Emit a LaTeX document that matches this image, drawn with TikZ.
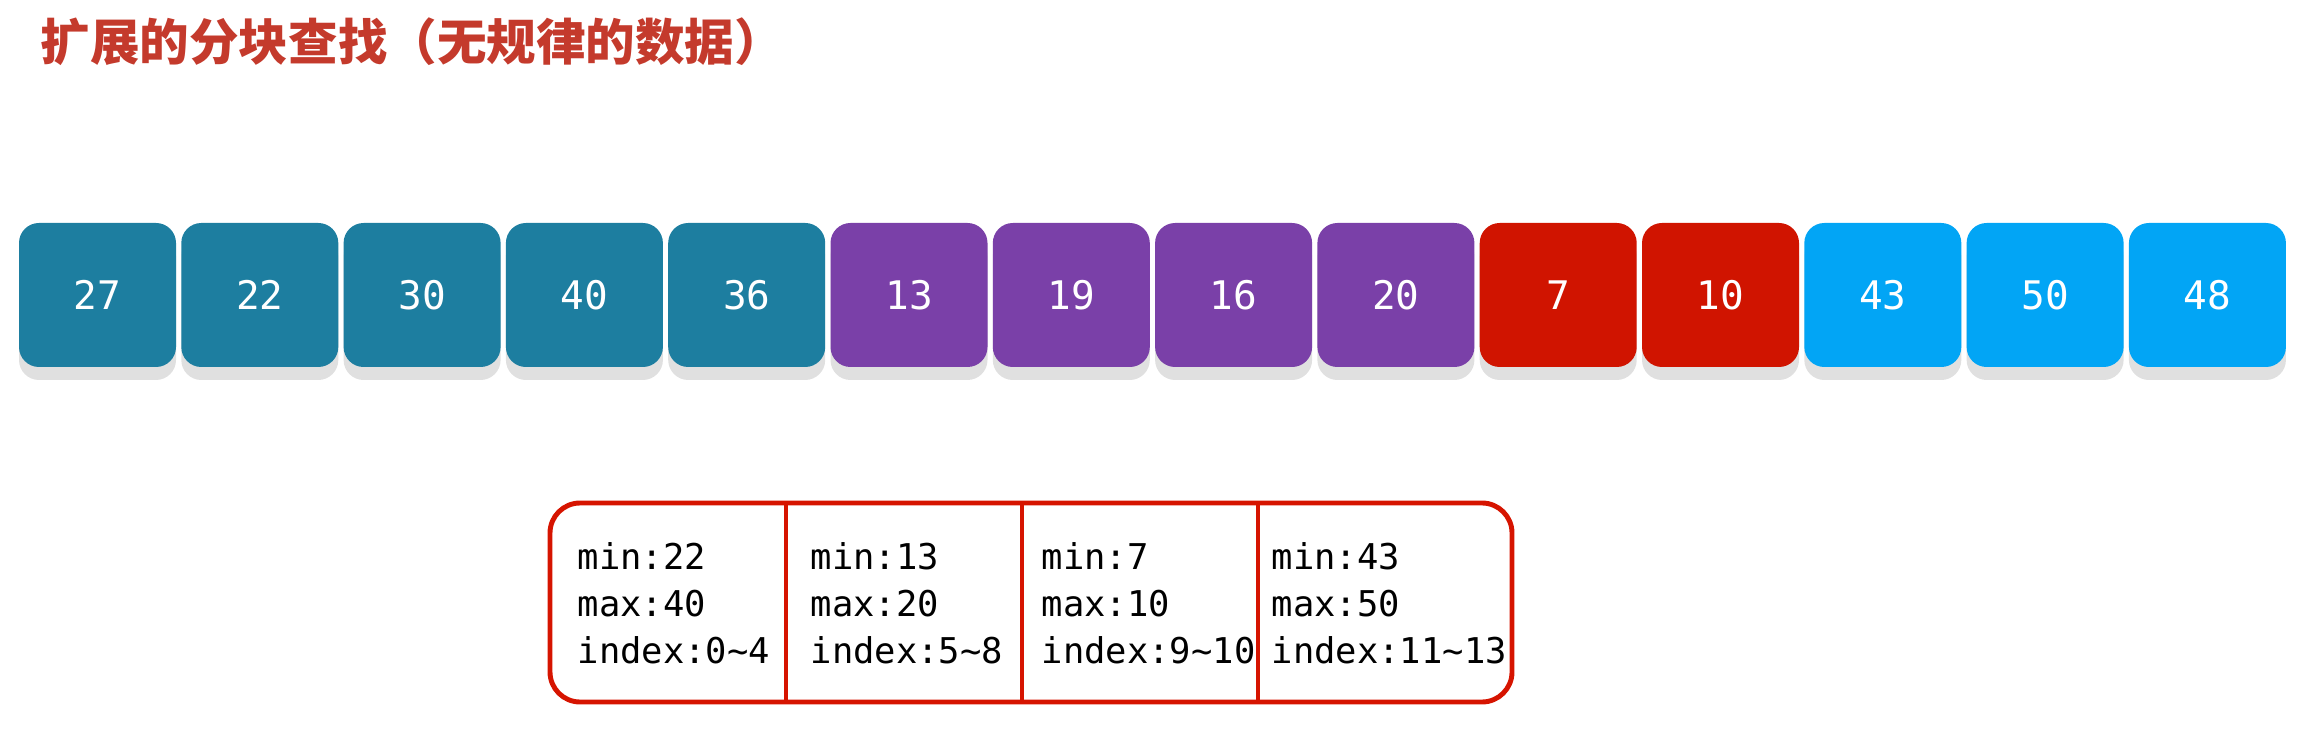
\documentclass[tikz,border=0pt]{standalone}
\usepackage{fontspec}
\usepackage{tikz}
\usetikzlibrary{shadows}
\newfontfamily\cjkfont{Noto Sans CJK SC}
\newfontfamily\codefont{DejaVu Sans Mono}
\definecolor{TitleRed}{RGB}{196,58,44}
\definecolor{BlockTeal}{RGB}{29,126,160}
\definecolor{BlockPurple}{RGB}{122,64,168}
\definecolor{BlockRed}{RGB}{208,20,0}
\definecolor{BlockBlue}{RGB}{2,165,245}
\definecolor{FrameRed}{RGB}{214,20,0}

\begin{document}
\begin{tikzpicture}[
    numbox/.style={rounded corners=0.2cm, minimum width=1.57cm, minimum height=1.44cm, text=white,
        font=\codefont\fontsize{11.2}{13}\selectfont,
        drop shadow={shadow xshift=0cm, shadow yshift=-0.13cm, fill=black!12, opacity=1}},
    info/.style={anchor=west, inner sep=0pt, align=left, font=\codefont\fontsize{10.1}{13.4}\selectfont}]
    \useasboundingbox (0,0) rectangle (23.13,7.39);

    % Title
    \node[anchor=west, inner sep=0pt, text=TitleRed, font=\cjkfont\bfseries\fontsize{14.1}{16}\selectfont] (title) at (0.40, 6.97) {扩展的分块查找（无规律的数据）};

    % Blocks
    \node[numbox, fill=BlockTeal] (n0) at (0.975, 4.44) {27};
    \node[numbox, fill=BlockTeal] (n1) at (2.598, 4.44) {22};
    \node[numbox, fill=BlockTeal] (n2) at (4.221, 4.44) {30};
    \node[numbox, fill=BlockTeal] (n3) at (5.844, 4.44) {40};
    \node[numbox, fill=BlockTeal] (n4) at (7.467, 4.44) {36};
    \node[numbox, fill=BlockPurple] (n5) at (9.090, 4.44) {13};
    \node[numbox, fill=BlockPurple] (n6) at (10.713, 4.44) {19};
    \node[numbox, fill=BlockPurple] (n7) at (12.336, 4.44) {16};
    \node[numbox, fill=BlockPurple] (n8) at (13.959, 4.44) {20};
    \node[numbox, fill=BlockRed] (n9) at (15.582, 4.44) {7};
    \node[numbox, fill=BlockRed] (n10) at (17.205, 4.44) {10};
    \node[numbox, fill=BlockBlue] (n11) at (18.828, 4.44) {43};
    \node[numbox, fill=BlockBlue] (n12) at (20.451, 4.44) {50};
    \node[numbox, fill=BlockBlue] (n13) at (22.074, 4.44) {48};

    % Index table
    \coordinate (tl) at (5.50, 2.36);
    \coordinate (br) at (15.12, 0.37);
    \draw[FrameRed, line width=1.4pt, rounded corners=0.3cm] (tl) rectangle (br);
    \draw[FrameRed, line width=1.2pt] (7.86, 2.36) -- (7.86, 0.37);
    \draw[FrameRed, line width=1.2pt] (10.22, 2.36) -- (10.22, 0.37);
    \draw[FrameRed, line width=1.2pt] (12.58, 2.36) -- (12.58, 0.37);

    \node[info] (b0) at (5.77, 1.355) {min:22\\max:40\\index:0\textasciitilde4};
    \node[info] (b1) at (8.10, 1.355) {min:13\\max:20\\index:5\textasciitilde8};
    \node[info] (b2) at (10.41, 1.355) {min:7\\max:10\\index:9\textasciitilde10};
    \node[info] (b3) at (12.71, 1.355) {min:43\\max:50\\index:11\textasciitilde13};
\end{tikzpicture}
\end{document}
